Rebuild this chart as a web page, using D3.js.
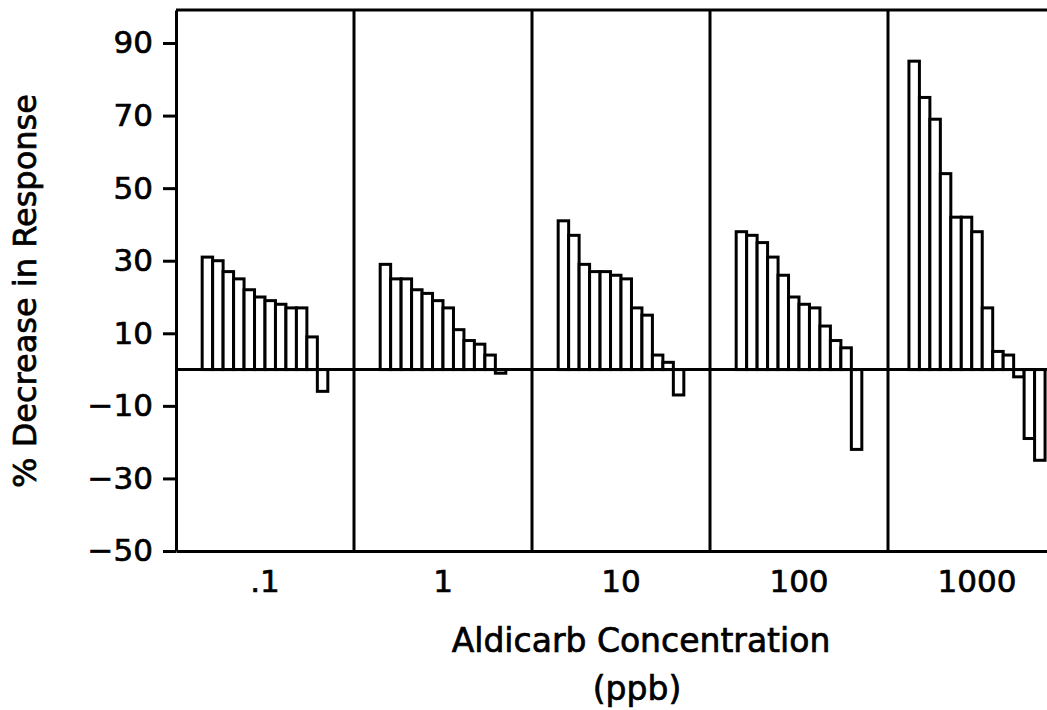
<!DOCTYPE html>
<html>
<head>
<meta charset="utf-8">
<script src="https://cdn.jsdelivr.net/npm/d3@7"></script>
<style>
    body { margin: 0; background: #fff; }
    text { font-family: "DejaVu Sans", sans-serif; fill: #000; stroke: #000; stroke-width: 0.7px; }
</style>
</head>
<body>
<script>
// aldicarb concentrations (ppb), one panel each
const concentrations = [".1", "1", "10", "100", "1000"];

// % decrease in response, bars in each panel
const pct01 = [31, 30, 27, 25, 22, 20, 19, 18, 17, 17, 9, -6];
const pct1 = [29, 25, 25, 22, 21, 19, 17, 11, 8, 7, 4, -1];
const pct10 = [41, 37, 29, 27, 27, 26, 25, 17, 15, 4, 2, -7];
const pct100 = [38, 37, 35, 31, 26, 20, 18, 17, 12, 8, 6, -22];
const pct1000 = [85, 75, 69, 54, 42, 42, 38, 17, 5, 4, -2, -19, -25];

const yTicks = [90, 70, 50, 30, 10, -10, -30, -50];

const panels = concentrations.map((c, i) => ({
    conc: c,
    values: [pct01, pct1, pct10, pct100, pct1000][i]
}));

const width = 1047, height = 710;
const margin = {top: 10, left: 176, bottom: 551};
const panelW = 178;
const slots = 17;   // bar slots per panel
const lw = 3;

const svg = d3.select("body")
    .append("svg")
    .attr("width", width)
    .attr("height", height);

const x = d3.scaleBand()
    .domain(concentrations)
    .range([margin.left, margin.left + panelW * concentrations.length]);

const y = d3.scaleLinear()
    .domain([-50, 99.1])
    .range([margin.bottom, margin.top]);

// bars
const panel = svg.append("g")
    .selectAll("g")
    .data(panels)
    .join("g")
    .attr("transform", d => `translate(${x(d.conc)},0)`);

panel.each(function(p) {
    const inner = d3.scaleBand()
        .domain(d3.range(p.values.length))
        .range([0, x.bandwidth()])
        .paddingOuter((slots - p.values.length) / 2);

    d3.select(this).selectAll("rect")
        .data(p.values)
        .join("rect")
        .attr("x", (d, i) => inner(i))
        .attr("width", inner.bandwidth())
        .attr("y", d => y(Math.max(d, 0)))
        .attr("height", d => Math.abs(y(d) - y(0)))
        .attr("fill", "#fff")
        .attr("stroke", "#000")
        .attr("stroke-width", lw);
});

// zero line
svg.append("line")
    .attr("x1", margin.left).attr("x2", x.range()[1])
    .attr("y1", y(0)).attr("y2", y(0))
    .attr("stroke", "#000").attr("stroke-width", lw);

// panel dividers
svg.append("g")
    .selectAll("line")
    .data(concentrations.slice(1))
    .join("line")
    .attr("x1", d => x(d)).attr("x2", d => x(d))
    .attr("y1", margin.top).attr("y2", margin.bottom)
    .attr("stroke", "#000").attr("stroke-width", lw);

// top frame and right edge
svg.append("path")
    .attr("d", `M${margin.left},${margin.top}H${x.range()[1]}V${margin.bottom}`)
    .attr("fill", "none")
    .attr("stroke", "#000").attr("stroke-width", lw);

// y axis
svg.append("g")
    .attr("transform", `translate(${margin.left},0)`)
    .call(d3.axisLeft(y).tickValues(yTicks).tickFormat(d3.format("d"))
        .tickSize(13).tickSizeOuter(0).tickPadding(10))
    .call(g => g.selectAll("path, line").attr("stroke", "#000").attr("stroke-width", lw))
    .call(g => g.selectAll("text").style("font-size", "31px").attr("font-family", null));

// x axis
svg.append("g")
    .attr("transform", `translate(0,${margin.bottom})`)
    .call(d3.axisBottom(x).tickSize(0).tickSizeOuter(0).tickPadding(19))
    .call(g => g.select(".domain").attr("stroke", "#000").attr("stroke-width", lw))
    .call(g => g.selectAll("text").style("font-size", "31px").attr("font-family", null));

// titles
svg.append("text")
    .attr("x", 641).attr("y", 652)
    .attr("text-anchor", "middle")
    .style("font-size", "33px")
    .text("Aldicarb Concentration");

svg.append("text")
    .attr("x", 637).attr("y", 700)
    .attr("text-anchor", "middle")
    .style("font-size", "33px")
    .text("(ppb)");

svg.append("text")
    .attr("transform", "translate(36,291) rotate(-90)")
    .attr("text-anchor", "middle")
    .style("font-size", "32px")
    .text("% Decrease in Response");
</script>
</body>
</html>
